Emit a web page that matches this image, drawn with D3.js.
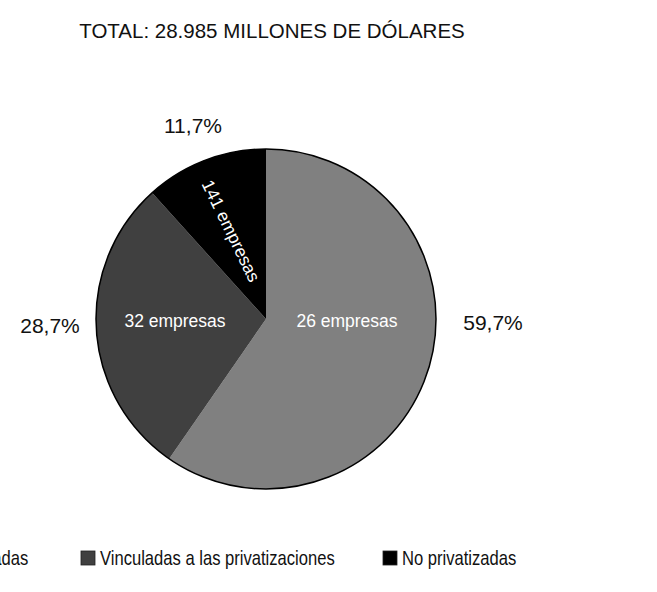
<!DOCTYPE html>
<html>
<head>
<meta charset="utf-8">
<script src="https://cdn.jsdelivr.net/npm/d3@7"></script>
<style>
  html, body { margin: 0; padding: 0; background: #fff; }
  svg { display: block; }
</style>
</head>
<body>
<svg id="chart" width="657" height="592"></svg>
<script>
// ---- data ----
const title = "TOTAL: 28.985 MILLONES DE DÓLARES";
const categories = ["Privatizadas", "Vinculadas a las privatizaciones", "No privatizadas"];
const values = [59.7, 28.7, 11.7];
const percentLabels = ["59,7%", "28,7%", "11,7%"];
const innerLabels = ["26 empresas", "32 empresas", "141 empresas"];
const colors = ["#808080", "#404040", "#000000"];

// ---- layout ----
const W = 657, H = 592;
const cx = 266, cy = 319, R = 170;
const svg = d3.select("#chart");

svg.append("text")
  .attr("x", 272).attr("y", 38)
  .attr("text-anchor", "middle")
  .attr("font-family", "Liberation Sans, Arial, sans-serif")
  .attr("font-size", 20.5)
  .attr("fill", "#111")
  .text(title);

const pie = d3.pie().sort(null).value(d => d.v);
const data = categories.map((c, i) => ({ c, v: values[i], i }));
const arcs = pie(data);
const arc = d3.arc().innerRadius(0).outerRadius(R);

const g = svg.append("g").attr("transform", `translate(${cx},${cy})`);
g.selectAll("path.slice").data(arcs).enter().append("path")
  .attr("class", "slice")
  .attr("d", arc)
  .attr("fill", d => colors[d.data.i]);

g.append("circle").attr("r", R).attr("fill", "none")
  .attr("stroke", "#000").attr("stroke-width", 1.5);

// inner labels
const innerPos = [
  { x: 81, y: 2, rot: 0 },
  { x: -91, y: 2, rot: 0 },
  { x: -35, y: -88, rot: 64 }
];
g.selectAll("text.inner").data(arcs).enter().append("text")
  .attr("class", "inner")
  .attr("transform", d => {
    const p = innerPos[d.data.i];
    return `translate(${p.x},${p.y}) rotate(${p.rot})`;
  })
  .attr("text-anchor", "middle")
  .attr("dominant-baseline", "central")
  .attr("font-family", "Liberation Sans, Arial, sans-serif")
  .attr("font-size", 17.5)
  .attr("fill", "#fff")
  .text(d => innerLabels[d.data.i]);

// outer percent labels
const outerPos = [
  { x: 227, y: 3 },
  { x: -216, y: 6 },
  { x: -73, y: -194 }
];
g.selectAll("text.pct").data(arcs).enter().append("text")
  .attr("class", "pct")
  .attr("x", d => outerPos[d.data.i].x)
  .attr("y", d => outerPos[d.data.i].y)
  .attr("text-anchor", "middle")
  .attr("dominant-baseline", "central")
  .attr("font-family", "Liberation Sans, Arial, sans-serif")
  .attr("font-size", 21)
  .attr("fill", "#111")
  .text(d => percentLabels[d.data.i]);

// legend (narrow typeface emulated by horizontal scaling)
const legendX = [-81, 81, 383];
const legend = svg.append("g");
const items = legend.selectAll("g").data(categories).enter().append("g")
  .attr("transform", (d, i) => `translate(${legendX[i]},551)`);
items.append("rect")
  .attr("width", 14).attr("height", 14)
  .attr("fill", (d, i) => colors[i])
  .attr("stroke", "#222").attr("stroke-width", 0.8);
items.append("text")
  .attr("transform", "translate(19,14) scale(0.83,1)")
  .attr("font-family", "Liberation Sans, Arial, sans-serif")
  .attr("font-size", 20)
  .attr("fill", "#111")
  .text(d => d);
</script>
</body>
</html>
